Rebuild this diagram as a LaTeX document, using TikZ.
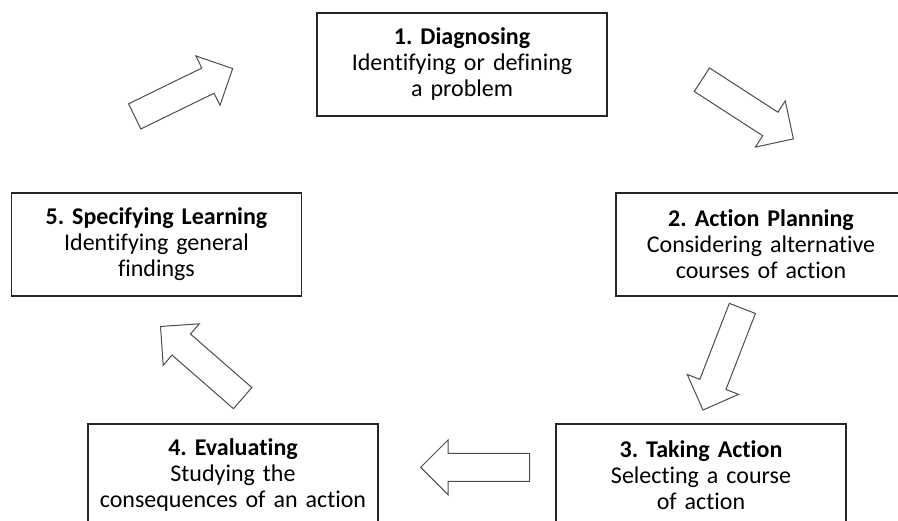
\documentclass[tikz,border=0pt]{standalone}
\usepackage{fontspec}
\setmainfont{Carlito}[Ligatures=NoCommon]
\usetikzlibrary{shapes.arrows}
\begin{document}
\frenchspacing
\begin{tikzpicture}[x=1pt,y=-1pt,
  stage/.style={draw=black!85, line width=1.2pt, rectangle,
    minimum width=290pt, minimum height=103pt, inner sep=0pt,
    text width=286pt, align=center,
    font=\fontsize{24}{26}\selectfont},
  flow/.style={single arrow, draw=black!70, line width=1pt,
    minimum height=109pt, inner xsep=0pt, inner ysep=13.5pt,
    single arrow head extend=13.5pt, single arrow tip angle=90,
    anchor=tip}]
\clip (0,0) rectangle (898,521);

% stages of the cycle
\node[stage] (diag)  at (462,64.5)  {\textbf{1. Diagnosing}\\Identifying or defining\\a problem};
\node[stage] (plan)  at (761,244.5) {\textbf{2. Action Planning}\\Considering alternative\\courses of action};
\node[stage] (act)   at (701,475.5) {\textbf{3. Taking Action}\\Selecting a course\\of action};
\node[stage] (eval)  at (233,475.5) {\textbf{4. Evaluating}\\Studying the\\consequences of an action};
\node[stage] (learn) at (156.5,244.5) {\textbf{5. Specifying Learning}\\Identifying general\\findings};

% block arrows between the stages
\node[flow, rotate=26]     (a51) at (233.3,68.3)  {};
\node[flow, rotate=-32.9]  (a12) at (794,139.3)   {};
\node[flow, rotate=-111.2] (a23) at (702.7,410.7) {};
\node[flow, rotate=180]    (a34) at (420,467.3)   {};
\node[flow, rotate=138.9]  (a45) at (160,326)     {};
\end{tikzpicture}
\end{document}
